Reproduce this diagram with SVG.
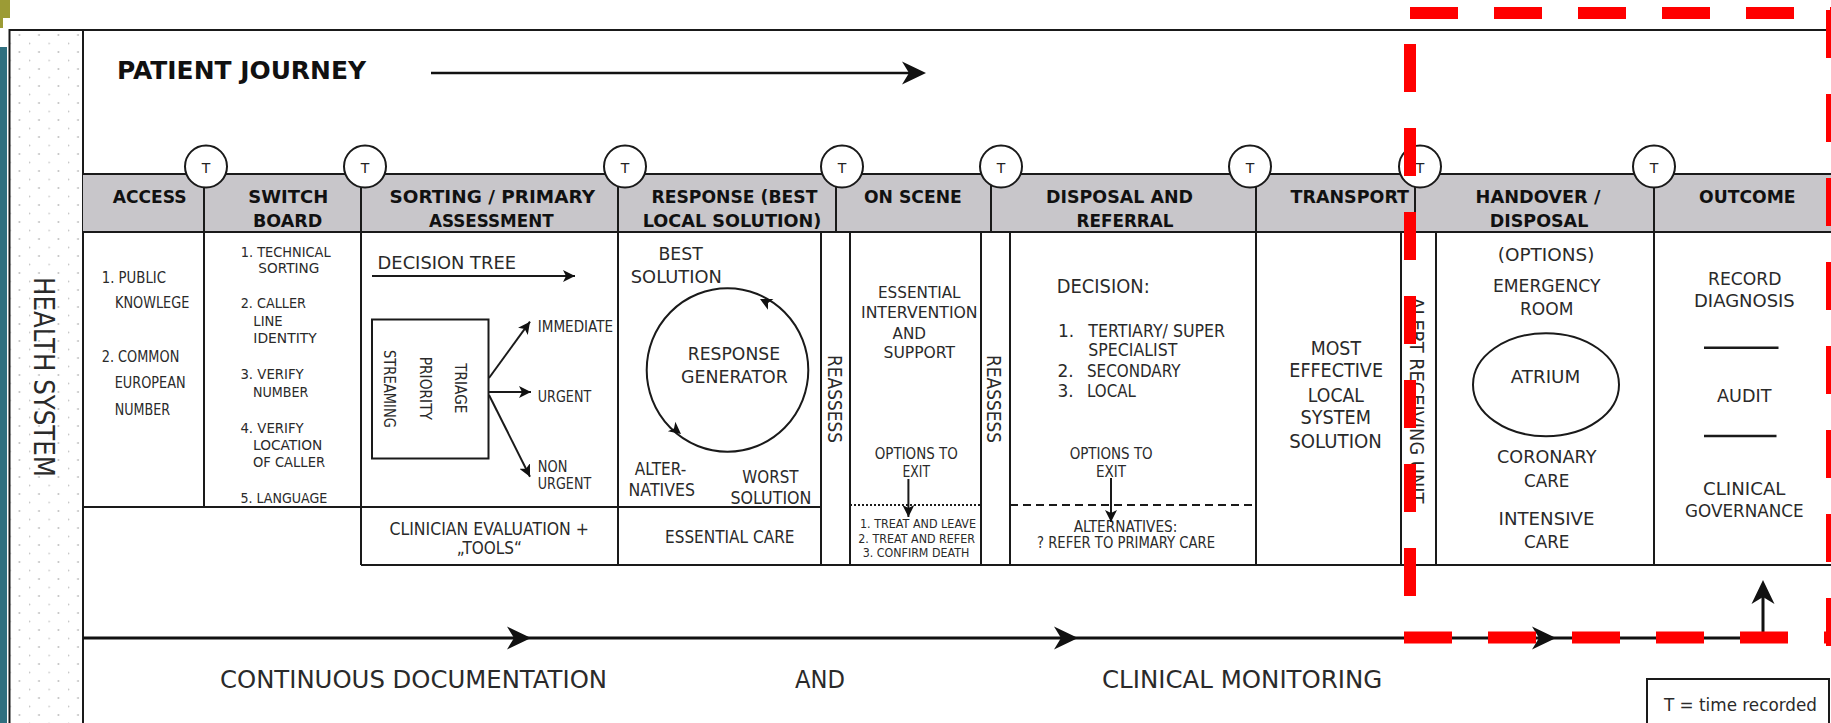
<svg xmlns="http://www.w3.org/2000/svg" xmlns:xlink="http://www.w3.org/1999/xlink" width="1831" height="723" viewBox="0 0 1831 723">
<style>
.ln{stroke:#1a1a1a;stroke-width:2;fill:none}
.lw{stroke:#1a1a1a;stroke-width:2;fill:#fff}
.h{font-family:"DejaVu Sans",sans-serif;font-weight:bold;font-size:18px;fill:#111}
.t{font-family:"DejaVu Sans",sans-serif;fill:#2a2a2a}
.tc{font-family:"DejaVu Sans",sans-serif;font-size:14px;fill:#222;text-anchor:middle}
.red{stroke:#ff0000;stroke-width:12;fill:none;stroke-dasharray:48 36}
</style>
<defs>
<pattern id="dots" width="19.5" height="17" patternUnits="userSpaceOnUse" x="9.5" y="30">
<circle cx="10" cy="5" r="0.9" fill="#b8b8b8"/>
<circle cx="0.5" cy="13.5" r="0.9" fill="#c8c8c8"/>
</pattern>
<path id="big" d="M0,0 L-24,-11.5 L-17,0 L-24,11.5 Z" fill="#111"/>
<path id="sm" d="M0,0 L-10,-5 L-7.5,0 L-10,5 Z" fill="#111"/>
<marker id="ah" viewBox="-12 -6 12 12" refX="0" refY="0" markerWidth="12" markerHeight="12" markerUnits="userSpaceOnUse" orient="auto"><path d="M0,0 L-12,-6 L-9,0 L-12,6 Z" fill="#111"/></marker>
</defs>
<rect width="1831" height="723" fill="#fff"/>
<g id="deco">
<rect x="0" y="0" width="10" height="18" fill="#9c9b35"/>
<rect x="0" y="18" width="3" height="10" fill="#9c9b35"/>
<rect x="0" y="47" width="7" height="676" fill="#2f6f7f"/>
</g>
<g id="frame">
<rect x="9.5" y="30" width="73.5" height="700" fill="url(#dots)"/>
<path class="ln" d="M9.5,723 V30 H1831 M83,30 V723"/>
</g>
<g id="health-system">
<text class="t" font-size="28" transform="translate(34,277) rotate(90)" textLength="200" lengthAdjust="spacingAndGlyphs">HEALTH SYSTEM</text>
</g>
<g id="patient-journey">
<text class="h" x="117" y="79" style="font-size:24.5px" textLength="249" lengthAdjust="spacingAndGlyphs">PATIENT JOURNEY</text>
</g>
<g id="header">
<rect x="83" y="174" width="1748" height="58" fill="#c8c6ca"/>
<path class="ln" d="M83,174 H1831 M83,232 H1831"/>
</g>
<g id="grid">
<path class="ln" d="M204,174 V507 M361,174 V565 M618,174 V565 M836,174 V232 M821,232 V565 M850,232 V565 M991,174 V232 M981,232 V565 M1010,232 V565 M1256,174 V565 M1415,174 V232 M1401,232 V565 M1436,232 V565 M1654,174 V565 M83,507 H821 M361,565 H1831"/>
<path d="M850,505 H981" stroke="#1a1a1a" stroke-width="2" stroke-dasharray="2 2"/>
<path d="M1010,505 H1256" stroke="#1a1a1a" stroke-width="2" stroke-dasharray="8 5"/>
</g>
<g id="access">
<text class="h" x="112.7" y="203" textLength="74" lengthAdjust="spacingAndGlyphs">ACCESS</text>
<text class="t" font-size="15.5" x="101.7" y="283.3" textLength="64.3" lengthAdjust="spacingAndGlyphs">1. PUBLIC</text>
<text class="t" font-size="15.5" x="115" y="308.3" textLength="74.3" lengthAdjust="spacingAndGlyphs">KNOWLEGE</text>
<text class="t" font-size="15.5" x="101.7" y="361.7" textLength="77.6" lengthAdjust="spacingAndGlyphs">2. COMMON</text>
<text class="t" font-size="15.5" x="114.7" y="388.3" textLength="71" lengthAdjust="spacingAndGlyphs">EUROPEAN</text>
<text class="t" font-size="15.5" x="114.7" y="415" textLength="55.3" lengthAdjust="spacingAndGlyphs">NUMBER</text>
</g>
<g id="switchboard">
<text class="h" x="248.3" y="203" textLength="80" lengthAdjust="spacingAndGlyphs">SWITCH</text>
<text class="h" x="253" y="227" textLength="69.3" lengthAdjust="spacingAndGlyphs">BOARD</text>
<text class="t" font-size="14.5" x="240.7" y="256.7" textLength="90" lengthAdjust="spacingAndGlyphs">1. TECHNICAL</text>
<text class="t" font-size="14.5" x="258.3" y="273.3" textLength="61" lengthAdjust="spacingAndGlyphs">SORTING</text>
<text class="t" font-size="14.5" x="240.7" y="308.3" textLength="65.3" lengthAdjust="spacingAndGlyphs">2. CALLER</text>
<text class="t" font-size="14.5" x="253.3" y="326" textLength="29.4" lengthAdjust="spacingAndGlyphs">LINE</text>
<text class="t" font-size="14.5" x="253.3" y="343.3" textLength="63.4" lengthAdjust="spacingAndGlyphs">IDENTITY</text>
<text class="t" font-size="14.5" x="240.4" y="379.3" textLength="63.3" lengthAdjust="spacingAndGlyphs">3. VERIFY</text>
<text class="t" font-size="14.5" x="253" y="397.3" textLength="55.4" lengthAdjust="spacingAndGlyphs">NUMBER</text>
<text class="t" font-size="14.5" x="240.4" y="432.7" textLength="63.3" lengthAdjust="spacingAndGlyphs">4. VERIFY</text>
<text class="t" font-size="14.5" x="253" y="450" textLength="69.3" lengthAdjust="spacingAndGlyphs">LOCATION</text>
<text class="t" font-size="14.5" x="253" y="467.3" textLength="72" lengthAdjust="spacingAndGlyphs">OF CALLER</text>
<text class="t" font-size="14.5" x="240.4" y="502.7" textLength="87" lengthAdjust="spacingAndGlyphs">5. LANGUAGE</text>
</g>
<g id="sorting">
<text class="h" x="389.5" y="203" textLength="205.5" lengthAdjust="spacingAndGlyphs">SORTING / PRIMARY</text>
<text class="h" x="429" y="227" textLength="124.6" lengthAdjust="spacingAndGlyphs">ASSESSMENT</text>
<text class="t" font-size="18" x="377.6" y="269.3" textLength="138.4" lengthAdjust="spacingAndGlyphs">DECISION TREE</text>
<rect class="ln" x="372" y="319.5" width="116.5" height="139"/>
<text class="t" font-size="15" transform="translate(384,350) rotate(90)" textLength="78" lengthAdjust="spacingAndGlyphs">STREAMING</text>
<text class="t" font-size="15" transform="translate(419.5,356.7) rotate(90)" textLength="63.3" lengthAdjust="spacingAndGlyphs">PRIORITY</text>
<text class="t" font-size="15" transform="translate(454.5,363.3) rotate(90)" textLength="50" lengthAdjust="spacingAndGlyphs">TRIAGE</text>
<text class="t" font-size="15" x="537.8" y="331.7" textLength="75.2" lengthAdjust="spacingAndGlyphs">IMMEDIATE</text>
<text class="t" font-size="15" x="537.8" y="401.7" textLength="53.4" lengthAdjust="spacingAndGlyphs">URGENT</text>
<text class="t" font-size="15" x="537.8" y="471.7" textLength="29.6" lengthAdjust="spacingAndGlyphs">NON</text>
<text class="t" font-size="15" x="537.8" y="489.3" textLength="53.4" lengthAdjust="spacingAndGlyphs">URGENT</text>
<text class="t" font-size="18" x="389.5" y="535" textLength="199.5" lengthAdjust="spacingAndGlyphs">CLINICIAN EVALUATION +</text>
<text class="t" font-size="18" x="456.7" y="554.3" textLength="65.3" lengthAdjust="spacingAndGlyphs">„TOOLS“</text>
</g>
<g id="response">
<text class="h" x="651.4" y="203" textLength="166" lengthAdjust="spacingAndGlyphs">RESPONSE (BEST</text>
<text class="h" x="642.7" y="227" textLength="178.7" lengthAdjust="spacingAndGlyphs">LOCAL SOLUTION)</text>
<text class="t" font-size="17" x="658.5" y="260" textLength="44.3" lengthAdjust="spacingAndGlyphs">BEST</text>
<text class="t" font-size="17" x="630.8" y="282.7" textLength="91" lengthAdjust="spacingAndGlyphs">SOLUTION</text>
<ellipse class="ln" cx="727.5" cy="370" rx="80.8" ry="81.7"/>
<use xlink:href="#sm" href="#sm" transform="translate(760,299) rotate(-153) scale(1.2)"/>
<use xlink:href="#sm" href="#sm" transform="translate(681,434) rotate(38.6) scale(1.2)"/>
<text class="t" font-size="18" x="687.8" y="360" textLength="92.2" lengthAdjust="spacingAndGlyphs">RESPONSE</text>
<text class="t" font-size="18" x="681" y="382.7" textLength="106.8" lengthAdjust="spacingAndGlyphs">GENERATOR</text>
<text class="t" font-size="17" x="634.8" y="475" textLength="51.4" lengthAdjust="spacingAndGlyphs">ALTER-</text>
<text class="t" font-size="17" x="628.5" y="496" textLength="66.5" lengthAdjust="spacingAndGlyphs">NATIVES</text>
<text class="t" font-size="17" x="742.3" y="483.3" textLength="56.2" lengthAdjust="spacingAndGlyphs">WORST</text>
<text class="t" font-size="17" x="730.5" y="504" textLength="81" lengthAdjust="spacingAndGlyphs">SOLUTION</text>
<text class="t" font-size="17" x="665" y="543.3" textLength="129.5" lengthAdjust="spacingAndGlyphs">ESSENTIAL CARE</text>
</g>
<g id="reassess-1">
<text class="t" font-size="20" transform="translate(828,355) rotate(90)" textLength="88" lengthAdjust="spacingAndGlyphs">REASSESS</text>
</g>
<g id="on-scene">
<text class="h" x="864" y="203" textLength="97.8" lengthAdjust="spacingAndGlyphs">ON SCENE</text>
<text class="t" font-size="16" x="878" y="298.3" textLength="82.6" lengthAdjust="spacingAndGlyphs">ESSENTIAL</text>
<text class="t" font-size="16" x="861" y="318.3" textLength="116.6" lengthAdjust="spacingAndGlyphs">INTERVENTION</text>
<text class="t" font-size="16" x="892.6" y="339" textLength="33.4" lengthAdjust="spacingAndGlyphs">AND</text>
<text class="t" font-size="16" x="883.5" y="358.3" textLength="71.5" lengthAdjust="spacingAndGlyphs">SUPPORT</text>
<text class="t" font-size="15" x="874.8" y="459.3" textLength="83" lengthAdjust="spacingAndGlyphs">OPTIONS TO</text>
<text class="t" font-size="15" x="902.5" y="477.3" textLength="27.5" lengthAdjust="spacingAndGlyphs">EXIT</text>
<text class="t" font-size="12" x="860" y="528.3" textLength="116" lengthAdjust="spacingAndGlyphs">1. TREAT AND LEAVE</text>
<text class="t" font-size="12" x="858.3" y="543.3" textLength="116.7" lengthAdjust="spacingAndGlyphs">2. TREAT AND REFER</text>
<text class="t" font-size="12" x="862.7" y="556.7" textLength="106.6" lengthAdjust="spacingAndGlyphs">3. CONFIRM DEATH</text>
</g>
<g id="reassess-2">
<text class="t" font-size="20" transform="translate(987,355) rotate(90)" textLength="88" lengthAdjust="spacingAndGlyphs">REASSESS</text>
</g>
<g id="disposal">
<text class="h" x="1046" y="203" textLength="147" lengthAdjust="spacingAndGlyphs">DISPOSAL AND</text>
<text class="h" x="1076.5" y="227" textLength="97" lengthAdjust="spacingAndGlyphs">REFERRAL</text>
<text class="t" font-size="19" x="1056.7" y="292.7" textLength="93" lengthAdjust="spacingAndGlyphs">DECISION:</text>
<text class="t" font-size="17" x="1058" y="336.7">1.</text>
<text class="t" font-size="17" x="1088.3" y="336.7" textLength="136.7" lengthAdjust="spacingAndGlyphs">TERTIARY/ SUPER</text>
<text class="t" font-size="17" x="1088.3" y="356" textLength="89" lengthAdjust="spacingAndGlyphs">SPECIALIST</text>
<text class="t" font-size="17" x="1057.5" y="376.7">2.</text>
<text class="t" font-size="17" x="1087" y="376.7" textLength="93.5" lengthAdjust="spacingAndGlyphs">SECONDARY</text>
<text class="t" font-size="17" x="1057.5" y="396.7">3.</text>
<text class="t" font-size="17" x="1087" y="396.7" textLength="48.8" lengthAdjust="spacingAndGlyphs">LOCAL</text>
<text class="t" font-size="15" x="1069.7" y="459.3" textLength="83" lengthAdjust="spacingAndGlyphs">OPTIONS TO</text>
<text class="t" font-size="15" x="1096" y="477.3" textLength="30" lengthAdjust="spacingAndGlyphs">EXIT</text>
<text class="t" font-size="16" x="1073.7" y="531.7" textLength="103.6" lengthAdjust="spacingAndGlyphs">ALTERNATIVES:</text>
<text class="t" font-size="16" x="1037" y="548.3" textLength="178" lengthAdjust="spacingAndGlyphs">? REFER TO PRIMARY CARE</text>
</g>
<g id="transport">
<text class="h" x="1290.5" y="203" textLength="118.5" lengthAdjust="spacingAndGlyphs">TRANSPORT</text>
<text class="t" font-size="19" x="1310.7" y="355" textLength="50.3" lengthAdjust="spacingAndGlyphs">MOST</text>
<text class="t" font-size="19" x="1289.3" y="377.3" textLength="93.7" lengthAdjust="spacingAndGlyphs">EFFECTIVE</text>
<text class="t" font-size="19" x="1307.8" y="401.7" textLength="56.2" lengthAdjust="spacingAndGlyphs">LOCAL</text>
<text class="t" font-size="19" x="1300.6" y="424" textLength="70.4" lengthAdjust="spacingAndGlyphs">SYSTEM</text>
<text class="t" font-size="19" x="1289.3" y="448.3" textLength="92.6" lengthAdjust="spacingAndGlyphs">SOLUTION</text>
</g>
<g id="alert-receiving-unit">
<text class="t" font-size="19" transform="translate(1409.5,297.3) rotate(90)" textLength="206" lengthAdjust="spacingAndGlyphs">ALERT RECEIVING UNIT</text>
</g>
<g id="handover">
<text class="h" x="1475.6" y="203" textLength="124.8" lengthAdjust="spacingAndGlyphs">HANDOVER /</text>
<text class="h" x="1489.7" y="227" textLength="98.6" lengthAdjust="spacingAndGlyphs">DISPOSAL</text>
<text class="t" font-size="18" x="1497.8" y="260.5" textLength="96.6" lengthAdjust="spacingAndGlyphs">(OPTIONS)</text>
<text class="t" font-size="18" x="1493" y="291.7" textLength="107.4" lengthAdjust="spacingAndGlyphs">EMERGENCY</text>
<text class="t" font-size="18" x="1520" y="315" textLength="53.4" lengthAdjust="spacingAndGlyphs">ROOM</text>
<ellipse class="ln" cx="1546" cy="384.7" rx="73" ry="51.5"/>
<text class="t" font-size="18" x="1510.7" y="383.3" textLength="69.6" lengthAdjust="spacingAndGlyphs">ATRIUM</text>
<text class="t" font-size="18" x="1497" y="463.3" textLength="99.4" lengthAdjust="spacingAndGlyphs">CORONARY</text>
<text class="t" font-size="18" x="1524" y="486.7" textLength="45.4" lengthAdjust="spacingAndGlyphs">CARE</text>
<text class="t" font-size="18" x="1498.6" y="525" textLength="95.8" lengthAdjust="spacingAndGlyphs">INTENSIVE</text>
<text class="t" font-size="18" x="1524" y="548.3" textLength="45.4" lengthAdjust="spacingAndGlyphs">CARE</text>
</g>
<g id="outcome">
<text class="h" x="1699" y="203" textLength="96.6" lengthAdjust="spacingAndGlyphs">OUTCOME</text>
<text class="t" font-size="18" x="1708" y="285" textLength="73.5" lengthAdjust="spacingAndGlyphs">RECORD</text>
<text class="t" font-size="18" x="1694" y="307.3" textLength="100.8" lengthAdjust="spacingAndGlyphs">DIAGNOSIS</text>
<path d="M1704,347.7 H1778.5 M1704,436 H1776.5" stroke="#1a1a1a" stroke-width="2.5"/>
<text class="t" font-size="18" x="1717" y="401.7" textLength="54.4" lengthAdjust="spacingAndGlyphs">AUDIT</text>
<text class="t" font-size="18" x="1703" y="495" textLength="82.5" lengthAdjust="spacingAndGlyphs">CLINICAL</text>
<text class="t" font-size="18" x="1685" y="516.7" textLength="118.6" lengthAdjust="spacingAndGlyphs">GOVERNANCE</text>
</g>
<g id="time-markers">
<circle class="lw" cx="206" cy="166.5" r="21"/><text class="tc" x="206" y="173">T</text>
<circle class="lw" cx="365" cy="166.5" r="21"/><text class="tc" x="365" y="173">T</text>
<circle class="lw" cx="625" cy="166.5" r="21"/><text class="tc" x="625" y="173">T</text>
<circle class="lw" cx="842" cy="166.5" r="21"/><text class="tc" x="842" y="173">T</text>
<circle class="lw" cx="1001" cy="166.5" r="21"/><text class="tc" x="1001" y="173">T</text>
<circle class="lw" cx="1250" cy="166.5" r="21"/><text class="tc" x="1250" y="173">T</text>
<circle class="lw" cx="1420" cy="166.5" r="21"/><text class="tc" x="1420" y="173">T</text>
<circle class="lw" cx="1654" cy="166.5" r="21"/><text class="tc" x="1654" y="173">T</text>
</g>
<g id="bottom-labels">
<text class="t" font-size="25" x="220" y="688.3" textLength="387" lengthAdjust="spacingAndGlyphs">CONTINUOUS DOCUMENTATION</text>
<text class="t" font-size="25" x="795" y="688.3" textLength="50" lengthAdjust="spacingAndGlyphs">AND</text>
<text class="t" font-size="25" x="1102" y="688.3" textLength="280.3" lengthAdjust="spacingAndGlyphs">CLINICAL MONITORING</text>
</g>
<g id="legend">
<rect x="1647" y="679" width="182" height="44" fill="#fff"/>
<path class="ln" d="M1647,723 V679 H1829 V723"/>
<text class="t" font-size="18" x="1664" y="711" textLength="153" lengthAdjust="spacingAndGlyphs">T = time recorded</text>
</g>
<g id="connectors">
<path d="M431,73 H912" stroke="#111" stroke-width="2.7"/>
<use xlink:href="#big" href="#big" x="926" y="73"/>
<path class="ln" d="M372,276 H575" marker-end="url(#ah)"/>
<path class="ln" d="M489,378 L530,321.7" marker-end="url(#ah)"/>
<path class="ln" d="M489,392 H531" marker-end="url(#ah)"/>
<path class="ln" d="M489,395 L530,476.7" marker-end="url(#ah)"/>
<path class="ln" d="M908.4,479 V517" marker-end="url(#ah)"/>
<path class="ln" d="M1111,478 V522" marker-end="url(#ah)"/>
<path d="M83,638 H1763 V595" stroke="#111" stroke-width="3" fill="none"/>
<use xlink:href="#big" href="#big" x="531" y="638"/>
<use xlink:href="#big" href="#big" x="1078" y="638"/>
<use xlink:href="#big" href="#big" x="1556" y="638"/>
<use xlink:href="#big" href="#big" transform="translate(1763,580) rotate(-90)"/>
</g>
<g id="highlight">
<path class="red" d="M1410,13 H1840"/>
<path class="red" d="M1410,44 V600"/>
<path class="red" d="M1404,637.5 H1840"/>
<path class="red" d="M1832,10 V650"/>
</g>
</svg>
